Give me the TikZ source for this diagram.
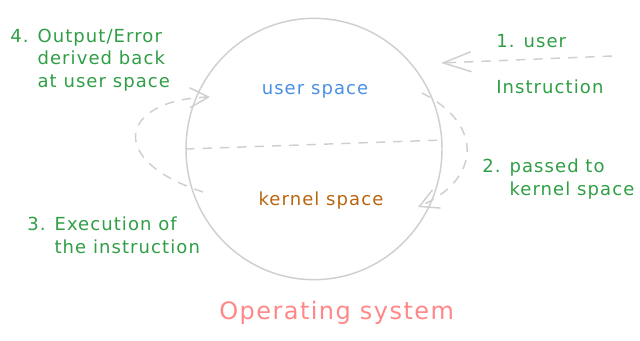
\documentclass[tikz,border=0pt]{standalone}
\usepackage{fontspec}
\setmainfont{DejaVu Sans}[LetterSpace=6]
\usetikzlibrary{arrows.meta,positioning,shapes.geometric}

\definecolor{stepgreen}{HTML}{2F9E44}
\definecolor{userblue}{HTML}{4A90E2}
\definecolor{kernelbrown}{HTML}{B8650F}
\definecolor{ostitle}{HTML}{FF8787}
\definecolor{sketchgray}{HTML}{CFCFCF}

\tikzset{
  flow/.style={draw=sketchgray,line width=1.1pt,dash pattern=on 7pt off 6pt,->},
  stepnote/.style={text=stepgreen,align=left,inner sep=0pt,anchor=west},
}

\begin{document}
\begin{tikzpicture}[x=0.75pt,y=-0.75pt,every node/.style={font=\fontsize{13.5}{17}\selectfont},
  >={Straight Barb[length=14pt,width=15pt]}]
\useasboundingbox (0,0) rectangle (640,340);

% the OS as one big circle, split in two halves
\node[draw=sketchgray,line width=1.1pt,ellipse,minimum width=192pt,minimum height=196pt] (os) at (314,149) {};
\draw[draw=sketchgray,line width=1.1pt,dash pattern=on 7pt off 6pt] (os.west) -- (os.4);
\node[text=userblue] (us) at (315,91) {user space};
\node[text=kernelbrown] (ks) at (321,201) {kernel space};
\node[text=ostitle,font=\fontsize{18}{22}\selectfont,below=12pt of os,xshift=17pt] (title) {Operating system};

% steps
\node[stepnote] (s1) at (496,64) {1. user\\[17pt]Instruction};
\node[stepnote] (s2) at (482,179) {2. passed to\\\phantom{2. }kernel space};
\node[stepnote] (s3) at (27,235) {3. Execution of\\\phantom{3. }the instruction};
\node[stepnote] (s4) at (10,60) {4. Output/Error\\\phantom{4. }derived back\\\phantom{4. }at user space};

\coordinate (in0) at (612,56);
\coordinate (in1) at (441,63);
\coordinate (k0) at (422,93);
\coordinate (k1) at (418,207);
\coordinate (r0) at (203,192);
\coordinate (r1) at (210,97);

\draw[flow,-{Straight Barb[length=21pt,width=15pt]}] (in0) -- (in1);
\draw[flow] (k0) .. controls (485,125) and (480,180) .. (k1);
\draw[flow] (r0) .. controls (105,160) and (120,100) .. (r1);
\end{tikzpicture}
\end{document}
